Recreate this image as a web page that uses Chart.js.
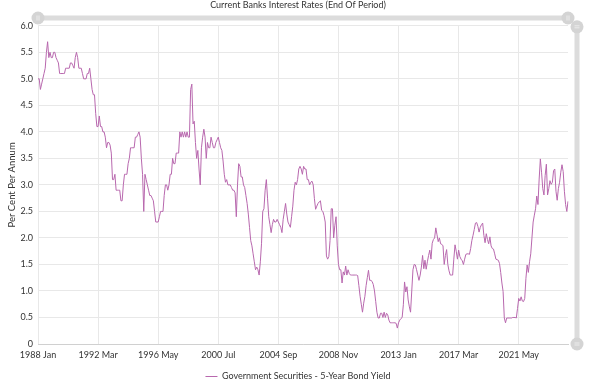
<!DOCTYPE html>
<html>
<head>
<meta charset="utf-8">
<script src="https://cdn.jsdelivr.net/npm/chart.js@4.4.1/dist/chart.umd.min.js"></script>
<style>
  body { margin: 0; background: #fff; }
  canvas { display: block; }
</style>
</head>
<body>
<canvas id="grafico" width="602" height="391"></canvas>
<script>
// Monthly data, 1988 Jan to 2024 Oct
const startYear = 1988
const monthNames = ['Jan', 'Feb', 'Mar', 'Apr', 'May', 'Jun', 'Jul', 'Aug', 'Sep', 'Oct', 'Nov', 'Dec']

const bondYield = [
  5.0, 5.0, 4.8, 4.9, 5.0, 5.1, 5.2, 5.5, 5.7, 5.4, 5.5, 5.4,          // 1988
  5.4, 5.5, 5.5, 5.4, 5.35, 5.3, 5.1, 5.1, 5.1, 5.1, 5.1, 5.2,         // 1989
  5.2, 5.2, 5.2, 5.3, 5.3, 5.25, 5.2, 5.4, 5.5, 5.4, 5.2, 5.2,         // 1990
  5.2, 5.1, 5.0, 5.0, 5.0, 5.1, 5.1, 5.2, 5.0, 4.8, 4.7, 4.7,          // 1991
  4.35, 4.1, 4.1, 4.3, 4.1, 4.1, 4.0, 4.0, 3.9, 3.7, 3.8, 3.8,         // 1992
  3.75, 3.6, 3.1, 3.1, 3.2, 2.9, 2.9, 2.9, 2.9, 2.7, 2.7, 3.0,         // 1993
  3.2, 3.2, 3.2, 3.4, 3.5, 3.7, 3.7, 3.7, 3.7, 3.9, 3.9, 3.95,         // 1994
  4.0, 3.9, 3.5, 3.2, 2.5, 3.2, 3.1, 3.0, 2.9, 2.8, 2.8, 2.75,         // 1995
  2.7, 2.5, 2.3, 2.3, 2.3, 2.4, 2.5, 2.5, 2.5, 2.8, 3.0, 3.0,          // 1996
  2.9, 3.0, 3.2, 3.2, 3.5, 3.4, 3.4, 3.6, 3.6, 3.6, 4.0, 3.9,          // 1997
  4.0, 3.9, 4.0, 3.9, 4.0, 3.9, 3.9, 4.8, 4.9, 4.15, 4.2, 3.8,         // 1998
  3.5, 3.65, 3.3, 3.0, 3.7, 3.9, 4.05, 3.9, 3.5, 3.8, 3.7, 3.7,        // 1999
  3.9, 3.8, 3.7, 3.7, 3.8, 3.85, 3.9, 3.8, 3.7, 3.65, 3.45, 3.2,       // 2000
  3.05, 3.1, 3.0, 3.0, 3.0, 2.95, 2.9, 2.9, 2.85, 2.4, 3.0, 3.4,       // 2001
  3.35, 3.15, 3.15, 3.0, 2.95, 2.8, 2.65, 2.45, 2.2, 1.95, 1.85, 1.7,  // 2002
  1.55, 1.4, 1.45, 1.4, 1.3, 1.55, 1.9, 2.5, 2.55, 2.9, 3.1, 2.75,     // 2003
  2.4, 2.25, 2.1, 2.25, 2.35, 2.3, 2.3, 2.35, 2.3, 2.25, 2.2, 2.1,     // 2004
  2.35, 2.5, 2.65, 2.45, 2.3, 2.25, 2.2, 2.4, 2.6, 2.9, 3.05, 3.0,     // 2005
  3.1, 3.3, 3.35, 3.3, 3.2, 3.35, 3.3, 3.3, 3.1, 3.1, 3.0, 3.05,       // 2006
  3.07, 3.0, 2.74, 2.54, 2.6, 2.65, 2.68, 2.7, 2.52, 2.5, 2.42, 2.3,   // 2007
  1.66, 1.6, 1.65, 1.95, 2.55, 2.55, 2.0, 2.24, 2.4, 1.85, 1.5, 1.4,   // 2008
  1.4, 1.15, 1.36, 1.3, 1.47, 1.3, 1.4, 1.33, 1.3, 1.3, 1.3, 1.3,      // 2009
  1.3, 1.3, 1.29, 1.1, 0.9, 0.75, 0.6, 0.77, 0.9, 1.1, 1.25, 1.39,     // 2010
  1.2, 1.2, 1.18, 1.12, 1.0, 0.8, 0.6, 0.49, 0.49, 0.58, 0.58, 0.5,    // 2011
  0.6, 0.5, 0.58, 0.55, 0.45, 0.4, 0.4, 0.4, 0.4, 0.4, 0.39, 0.3,      // 2012
  0.4, 0.45, 0.48, 0.5, 0.74, 1.17, 0.98, 1.08, 0.83, 0.7, 0.6, 1.0,   // 2013
  1.4, 1.5, 1.49, 1.4, 1.3, 1.2, 1.3, 1.45, 1.67, 1.42, 1.58, 1.41,    // 2014
  1.55, 1.67, 1.77, 1.6, 1.9, 1.97, 2.0, 2.19, 2.06, 1.93, 2.0, 1.89,  // 2015
  1.88, 1.85, 1.5, 1.67, 1.78, 1.5, 1.38, 1.3, 1.3, 1.3, 1.6, 1.87,    // 2016
  1.75, 1.6, 1.77, 1.65, 1.6, 1.57, 1.5, 1.6, 1.69, 1.7, 1.7, 1.69,    // 2017
  1.8, 1.95, 2.05, 2.16, 2.28, 2.29, 2.22, 2.11, 2.2, 2.25, 2.28, 2.05, // 2018
  1.91, 2.08, 1.97, 1.89, 2.02, 1.85, 1.8, 1.79, 1.7, 1.6, 1.59, 1.58, // 2019
  1.52, 1.35, 1.15, 0.99, 0.49, 0.4, 0.49, 0.49, 0.49, 0.49, 0.49, 0.5, // 2020
  0.5, 0.5, 0.49, 0.67, 0.86, 0.81, 0.89, 0.81, 0.8, 0.86, 1.24, 1.49, // 2021
  1.35, 1.55, 1.7, 2.0, 2.3, 2.43, 2.55, 2.79, 2.63, 3.11, 3.49, 3.24, // 2022
  2.93, 2.81, 3.18, 3.39, 2.81, 2.93, 3.08, 3.01, 3.05, 3.27, 3.3, 2.88, // 2023
  2.71, 2.93, 3.05, 3.24, 3.38, 3.25, 2.88, 2.63, 2.5, 2.69            // 2024
]

// Category labels "1988 Jan", "1988 Feb", ...
const months = bondYield.map((v, i) =>
  `${startYear + Math.floor(i / 12)} ${monthNames[i % 12]}`)

const labelStep = 50
const seriesName = 'Government Securities - 5-Year Bond Yield'
const lineColor = '#b868ae'
const textColor = '#333'
const fontFamily = 'Lato, "Open Sans", sans-serif'

// Desenha as barras de zoom (cinza) em cima e à direita
const sliders = {
  id: 'sliders',
  afterDraw(chart) {
    const c = chart.ctx
    const a = chart.chartArea
    c.save()
    c.strokeStyle = '#dcdcdc'
    c.lineCap = 'round'
    c.lineWidth = 5
    c.beginPath(); c.moveTo(a.left, 18); c.lineTo(a.right, 18); c.stroke()
    c.beginPath(); c.moveTo(577, a.top); c.lineTo(577, a.bottom); c.stroke()

    const handle = (x, y, vertical) => {
      c.fillStyle = '#d4d4d4'
      c.beginPath(); c.arc(x, y, 6.5, 0, Math.PI * 2); c.fill()
      c.strokeStyle = '#ececec'
      c.lineWidth = 1
      c.lineCap = 'butt'
      c.beginPath()
      if (vertical) {
        c.moveTo(x - 2.5, y - 1); c.lineTo(x + 2.5, y - 1)
        c.moveTo(x - 2.5, y + 1); c.lineTo(x + 2.5, y + 1)
      } else {
        c.moveTo(x - 1, y - 2.5); c.lineTo(x - 1, y + 2.5)
        c.moveTo(x + 1, y - 2.5); c.lineTo(x + 1, y + 2.5)
      }
      c.stroke()
    }
    handle(a.left, 18, false)
    handle(a.right, 18, false)
    handle(577, a.top + 1, true)
    handle(577, a.bottom, true)
    c.restore()
  }
}

const ctx = document.getElementById('grafico').getContext('2d')

new Chart(ctx, {
  type: 'line',
  data: {
    labels: months,
    datasets: [{
      label: seriesName,
      data: bondYield,
      borderColor: lineColor,
      backgroundColor: lineColor,
      borderWidth: 1,
      pointRadius: 0,
      tension: 0,
      fill: false
    }]
  },
  options: {
    responsive: false,
    animation: false,
    devicePixelRatio: 1,
    layout: { padding: { top: 0, right: 12, left: 6, bottom: 0 } },
    plugins: {
      title: {
        display: true,
        text: 'Current Banks Interest Rates (End Of Period)',
        color: textColor,
        font: { family: fontFamily, size: 9, weight: 'normal' },
        padding: { top: 0, bottom: 15 }
      },
      legend: {
        position: 'bottom',
        labels: {
          usePointStyle: true,
          pointStyle: 'line',
          pointStyleWidth: 12,
          boxHeight: 8,
          color: textColor,
          font: { family: fontFamily, size: 9 },
          padding: 8
        }
      },
      tooltip: { enabled: false }
    },
    scales: {
      x: {
        ticks: {
          autoSkip: false,
          maxRotation: 0,
          minRotation: 0,
          padding: 6,
          color: textColor,
          font: { family: fontFamily, size: 9 },
          callback: function (value, index) {
            return index % labelStep === 0 ? months[index] : null
          }
        },
        grid: { color: '#e8e8e8', drawTicks: false },
        border: { color: '#d0d0d0' },
        afterFit: scale => { scale.height = 20 }
      },
      y: {
        min: 0,
        max: 6,
        ticks: {
          stepSize: 0.5,
          padding: 5,
          color: textColor,
          font: { family: fontFamily, size: 9 },
          callback: v => v === 0 ? '0' : v.toFixed(1)
        },
        grid: { color: '#e8e8e8', drawTicks: false },
        border: { display: false },
        title: {
          display: true,
          text: 'Per Cent Per Annum',
          color: textColor,
          font: { family: fontFamily, size: 9.5 },
          padding: { top: 0, bottom: 0 }
        },
        afterFit: scale => { scale.width = 32 }
      },
      // espaço vazio à direita para a barra vertical
      spacer: {
        position: 'right',
        display: true,
        ticks: { display: false },
        grid: { display: false },
        border: { display: false },
        afterFit: scale => { scale.width = 22 }
      }
    }
  },
  plugins: [sliders]
})
</script>
</body>
</html>
